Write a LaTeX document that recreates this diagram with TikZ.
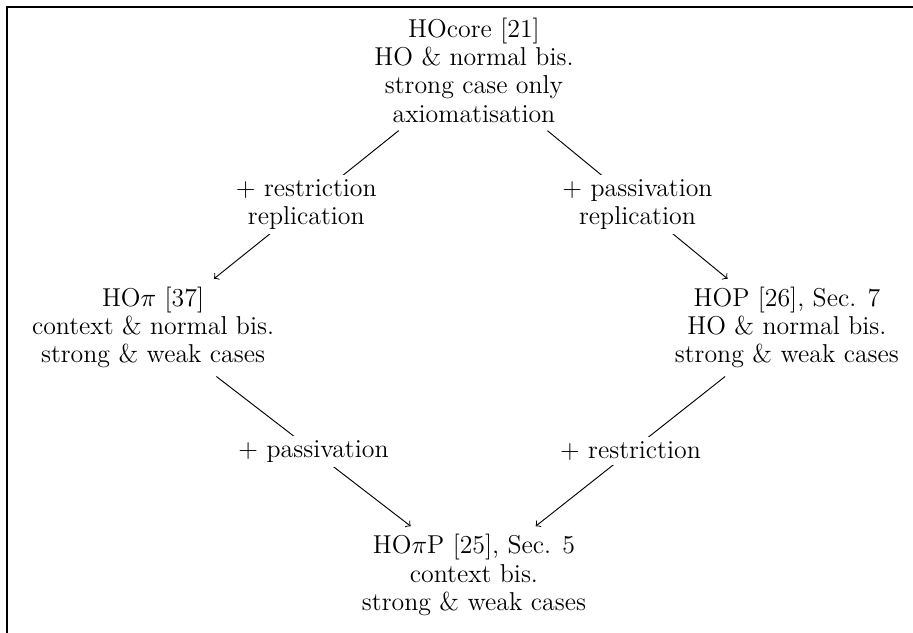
\documentclass[tikz,border=0pt]{standalone}
\usepackage{amsmath}
\usepackage{tikz}
\usetikzlibrary{%
  arrows,%
  positioning% wg. " of "
}

\begin{document}
\begin{tikzpicture}[on grid, every node/.style={align=center, font=\fontsize{11}{12}\selectfont}, lbl/.style={fill=white, inner sep=2pt}]
    \useasboundingbox (0,0) rectangle (13.655,-9.467);
    \clip (0,0) rectangle (13.655,-9.467);
    %frame
    \draw[line width=0.6pt] (0.105,-0.105) rectangle (15,-11);

    \node (hocore) at (7.089,-1.05) {HOcore [21]\\ HO \& normal bis.\\ strong case only\\ axiomatisation};
    \node (hopi) [below left=3.85cm and 4.8cm of hocore] {HO$\pi$ [37]\\ context \& normal bis.\\ strong \& weak cases};
    \node (hop) [below right=3.85cm and 4.68cm of hocore] {HOP [26], Sec. 7\\ HO \& normal bis.\\ strong \& weak cases};
    \node (hopip) [below right=3.7cm and 4.8cm of hopi] {HO$\pi$P [25], Sec. 5\\ context bis.\\ strong \& weak cases};

    \path[->]
    (hocore) edge node[lbl] {+ restriction\\ replication} (hopi)
    (hocore) edge node[lbl] {+ passivation\\ replication} (hop)
    (hopi) edge node[lbl] {+ passivation} (hopip)
    (hop) edge node[lbl] {+ restriction} (hopip);
\end{tikzpicture}
\end{document}
